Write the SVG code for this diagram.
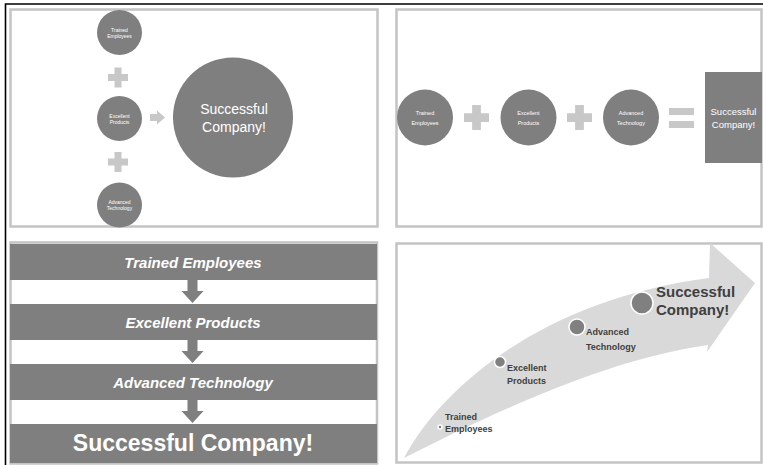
<svg xmlns="http://www.w3.org/2000/svg" width="763" height="465" viewBox="0 0 763 465">
<style>
.frame{fill:#fff;stroke:#c4c4c4;stroke-width:2.5}
.dark{fill:#7f7f7f}
.light{fill:#c8c8c8}
.t{font-family:"Liberation Sans",Arial,sans-serif;fill:#fff;text-anchor:middle}
.tiny{font-size:5px}
.small{font-size:5.5px}
.bar{font-size:15px;font-weight:bold;font-style:italic}
.lbl{font-family:"Liberation Sans",Arial,sans-serif;fill:#404040;font-weight:bold}
.dot{fill:#808080;stroke:#fff;stroke-width:1.5}
</style>
<defs>
<path id="plus" d="M-3.5,-10H3.5V-3.5H10V3.5H3.5V10H-3.5V3.5H-10V-3.5H-3.5Z"/>
<path id="down" d="M-5,0H5V11H11L0,23L-11,11H-5Z"/>
</defs>
<rect width="763" height="465" fill="#fff"/>
<path d="M5.5,465V4H763" fill="none" stroke="#000" stroke-width="1.6"/>
<!-- panel frames -->
<rect class="frame" x="10.5" y="9.5" width="367" height="217"/>
<rect class="frame" x="396.5" y="9.5" width="365" height="217"/>
<rect class="frame" x="10.5" y="242.5" width="366.5" height="221"/>
<rect class="frame" x="396.5" y="243.5" width="365" height="219"/>

<!-- Panel 1 -->
<g id="p1-trained"><circle class="dark" cx="119.5" cy="32.5" r="22.5"/><text class="t tiny" x="119.5" y="31.5">Trained</text><text class="t tiny" x="119.5" y="37.5">Employees</text></g>
<g id="p1-excellent"><circle class="dark" cx="119.5" cy="118.5" r="22.5"/><text class="t tiny" x="119.5" y="117.5">Excellent</text><text class="t tiny" x="119.5" y="123.5">Products</text></g>
<g id="p1-advanced"><circle class="dark" cx="119.5" cy="205" r="22.5"/><text class="t tiny" x="119.5" y="204">Advanced</text><text class="t tiny" x="119.5" y="210">Technology</text></g>
<g id="p1-success"><circle class="dark" cx="233" cy="117.5" r="60"/><text class="t" style="font-size:14px" x="234" y="114">Successful</text><text class="t" style="font-size:14px" x="234" y="132">Company!</text></g>

<!-- Panel 2 -->
<g id="p2-trained"><circle class="dark" cx="425" cy="117.5" r="28"/><text class="t small" x="425" y="115">Trained</text><text class="t small" x="425" y="124.5">Employees</text></g>
<g id="p2-excellent"><circle class="dark" cx="528.5" cy="117.5" r="28"/><text class="t small" x="528.5" y="115">Excellent</text><text class="t small" x="528.5" y="124.5">Products</text></g>
<g id="p2-advanced"><circle class="dark" cx="631" cy="117.5" r="28"/><text class="t small" x="631" y="115">Advanced</text><text class="t small" x="631" y="124.5">Technology</text></g>
<g id="p2-success"><rect class="dark" x="705" y="72" width="57" height="91"/><text class="t" style="font-size:9.5px" x="733.5" y="115">Successful</text><text class="t" style="font-size:9.5px" x="733.5" y="128">Company!</text></g>

<!-- Panel 3 -->
<g id="p3-trained"><rect class="dark" x="10" y="244" width="367" height="36"/><text class="t bar" x="193" y="268">Trained Employees</text></g>
<g id="p3-excellent"><rect class="dark" x="10" y="304" width="367" height="36"/><text class="t bar" x="193" y="328">Excellent Products</text></g>
<g id="p3-advanced"><rect class="dark" x="10" y="364" width="367" height="36"/><text class="t bar" x="193" y="388">Advanced Technology</text></g>
<g id="p3-success"><rect class="dark" x="10" y="424" width="367" height="39"/><text class="t" style="font-size:23px;font-weight:bold" x="193" y="451">Successful Company!</text></g>

<!-- Panel 4 -->
<g id="p4-arrow"><path d="M404,458C440,390 540,300 709,278L710,243L755,283L707,352L708,345C600,360 480,420 404,458Z" fill="#d9d9d9"/></g>
<g id="p4-trained"><circle class="dot" cx="440" cy="427" r="2"/><text class="lbl" style="font-size:9px" x="445" y="420">Trained</text><text class="lbl" style="font-size:9px" x="445" y="432">Employees</text></g>
<g id="p4-excellent"><circle class="dot" cx="500" cy="362" r="5.5"/><text class="lbl" style="font-size:9px" x="507" y="371">Excellent</text><text class="lbl" style="font-size:9px" x="507" y="384">Products</text></g>
<g id="p4-advanced"><circle class="dot" cx="577" cy="327" r="8"/><text class="lbl" style="font-size:9px" x="586" y="335">Advanced</text><text class="lbl" style="font-size:9px" x="586" y="350">Technology</text></g>
<g id="p4-success"><circle class="dot" cx="642" cy="303" r="11"/><text class="lbl" style="font-size:15px" x="656" y="297">Successful</text><text class="lbl" style="font-size:15px" x="656" y="315">Company!</text></g>

<!-- connectors -->
<g id="connectors">
<use href="#plus" class="light" x="118" y="77.5"/>
<use href="#plus" class="light" x="118" y="162"/>
<path class="light" d="M150,114H157V110.5L165,117.5L157,124.5V121H150Z"/>
<use href="#plus" class="light" transform="translate(476.5,117.5) scale(1.25)"/>
<use href="#plus" class="light" transform="translate(579.5,117.5) scale(1.25)"/>
<rect class="light" x="669" y="108" width="25" height="7"/>
<rect class="light" x="669" y="121" width="25" height="7"/>
<use href="#down" class="dark" x="192.5" y="280"/>
<use href="#down" class="dark" x="192.5" y="340"/>
<use href="#down" class="dark" x="192.5" y="400"/>
</g>
</svg>
